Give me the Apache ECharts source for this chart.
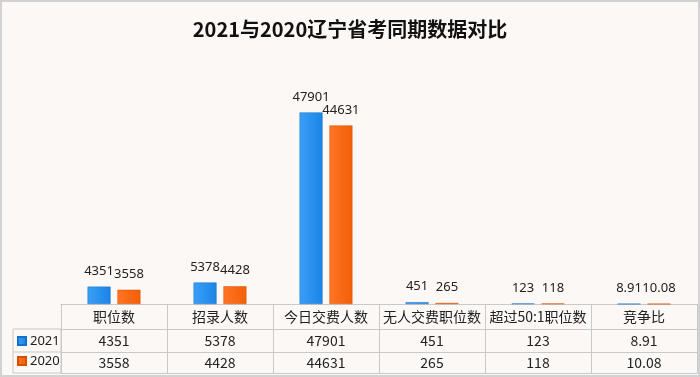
<!DOCTYPE html>
<html><head><meta charset="utf-8">
<script src="https://cdn.jsdelivr.net/npm/echarts@6/dist/echarts.min.js"></script>
<style>html,body{margin:0;padding:0;background:#fff}#c{width:700px;height:377px}</style>
</head><body><div id="c"></div>
<script>
const titleText = '2021与2020辽宁省考同期数据对比';
const categories = ['职位数','招录人数','今日交费人数','无人交费职位数','超过50:1职位数','竞争比'];
const seriesNames = ['2021','2020'];
const values2021 = [4351, 5378, 47901, 451, 123, 8.91];
const values2020 = [3558, 4428, 44631, 265, 118, 10.08];

const lineColor = '#c9c9c9';
const txt = '#222';
const font = '"Noto Sans CJK SC", "Noto Sans", sans-serif';

const chart = echarts.init(document.getElementById('c'), null, {renderer:'canvas'});
function tableAxis(data, offset, tickLen, showLabel, margin){
  return {
    type:'category', data:data, position:'bottom', offset:offset, gridIndex:0,
    boundaryGap:true,
    axisLine:{show:true, lineStyle:{color:lineColor, width:1}},
    axisTick:{show:tickLen>0, length:tickLen, interval:0, alignWithLabel:false, lineStyle:{color:lineColor}},
    axisLabel:{show:showLabel, interval:0, margin:margin, color:txt, fontSize:14, lineHeight:14, fontFamily:font},
    splitLine:{show:false}
  };
}
chart.setOption({
  backgroundColor:'#fcf8f6',
  animation:false,
  title:{text:titleText, left:'center', top:14, textStyle:{fontSize:20, fontWeight:'bold', color:'#111', fontFamily:font}},
  legend:{
    data:seriesNames, orient:'vertical', left:17, top:334, padding:0, itemWidth:8, itemHeight:8, itemGap:6,
    icon:'rect', textStyle:{fontSize:13, lineHeight:14, color:txt, fontFamily:'"Noto Sans", sans-serif', padding:[0,0,0,-1]}, selectedMode:false
  },
  grid:{left:61, right:3, top:104, bottom:73, containLabel:false},
  xAxis:[
    tableAxis(categories, 0, 25, true, 6),
    tableAxis(values2021.map(String), 25, 23, true, 5),
    tableAxis(values2020.map(String), 48, 21, true, 4),
    tableAxis(categories, 69, 0, false, 0)
  ],
  yAxis:{type:'value', min:0, max:50000, show:false},
  graphic:[
    {type:'rect', shape:{x:13, y:329, width:48, height:44}, style:{fill:'none', stroke:lineColor, lineWidth:1}, silent:true},
    {type:'line', shape:{x1:13, y1:352, x2:61, y2:352}, style:{stroke:lineColor, lineWidth:1}, silent:true},
    {type:'rect', shape:{x:1, y:1, width:698, height:375}, style:{fill:'none', stroke:'#d2d2d2', lineWidth:2}, silent:true}
  ],
  series:[
    {name:seriesNames[0], type:'bar', xAxisIndex:0, data:values2021, barWidth:23, barGap:'30%',
     itemStyle:{color:new echarts.graphic.LinearGradient(0,0,1,0,[{offset:0,color:'#3a9ff7'},{offset:1,color:'#1a84e6'}]), borderColor:'#1670c8', borderWidth:0.5},
     label:{show:true, position:'top', distance:9, color:txt, fontSize:13, fontFamily:'"Noto Sans", sans-serif'}},
    {name:seriesNames[1], type:'bar', xAxisIndex:0, data:values2020, barWidth:23,
     itemStyle:{color:new echarts.graphic.LinearGradient(0,0,1,0,[{offset:0,color:'#ff7424'},{offset:1,color:'#f25f06'}]), borderColor:'#d45000', borderWidth:0.5},
     label:{show:true, position:'top', distance:9, color:txt, fontSize:13, fontFamily:'"Noto Sans", sans-serif'}}
  ],
  color:['#1e8fef','#fb6510']
});
</script></body></html>
